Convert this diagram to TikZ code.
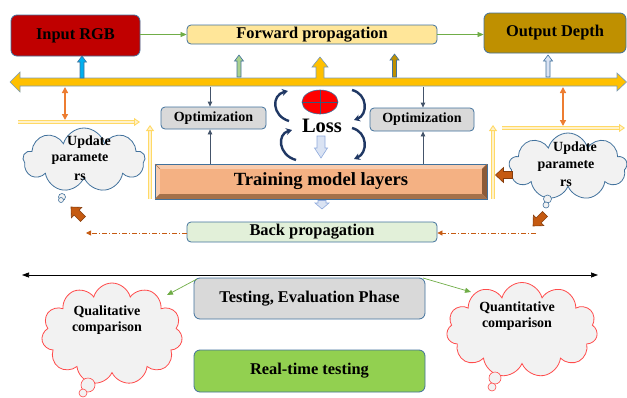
\documentclass[tikz,border=0pt]{standalone}
\usepackage{fontspec}
\setmainfont{Liberation Serif}
\usetikzlibrary{shapes.symbols,shapes.geometric,arrows.meta,calc}
\definecolor{bordblue}{HTML}{41719C}
\definecolor{inred}{HTML}{C00000}
\definecolor{fwdyel}{HTML}{FFE699}
\definecolor{outgold}{HTML}{BF9000}
\definecolor{bargold}{HTML}{FFC000}
\definecolor{optgray}{HTML}{D9D9D9}
\definecolor{trainor}{HTML}{F4B183}
\definecolor{trainlt}{HTML}{F8CBAD}
\definecolor{traindk}{HTML}{A5714A}
\definecolor{trainrd}{HTML}{8C5A37}
\definecolor{backgrn}{HTML}{E2F0D9}
\definecolor{realgrn}{HTML}{92D050}
\definecolor{cloudgray}{HTML}{F2F2F2}
\definecolor{cloudred}{HTML}{FF4B4B}
\definecolor{navy}{HTML}{203864}
\definecolor{slate}{HTML}{44546A}
\definecolor{orng}{HTML}{ED7D31}
\definecolor{brn}{HTML}{C55A11}
\definecolor{brndk}{HTML}{843C0C}
\definecolor{lgreen}{HTML}{70AD47}
\definecolor{skyblue}{HTML}{00B0F0}
\definecolor{pgreen}{HTML}{A9D18E}
\definecolor{pblue}{HTML}{DAE3F3}
\definecolor{pbluedk}{HTML}{8FAADC}
\definecolor{ylline}{HTML}{FFD966}
\definecolor{ylfill}{HTML}{FFF2CC}
\newcommand{\BlkUp}[5]{%
  \filldraw[fill=#4,draw=#5,line width=0.6pt]
    ({#1-2},#3) -- ({#1-2},{#2+6}) -- ({#1-4.5},{#2+6}) -- (#1,#2)
    -- ({#1+4.5},{#2+6}) -- ({#1+2},{#2+6}) -- ({#1+2},#3) -- cycle;}
\newcommand{\BrownArr}[3]{%
  \begin{scope}[shift={(#1,#2)},rotate=#3]
    \filldraw[fill=brn,draw=brndk,line width=0.6pt]
      (0,0) -- (-8,-7.5) -- (-8,-3.5) -- (-17,-3.5) -- (-17,3.5) -- (-8,3.5) -- (-8,7.5) -- cycle;
  \end{scope}}
\begin{document}
\begin{tikzpicture}[x=1pt,y=-1pt,
  box/.style={draw=bordblue,line width=0.8pt,rounded corners=4pt,inner sep=0pt,font=\bfseries},
  big/.style={font=\bfseries\fontsize{16.4}{18}\selectfont},
  small/.style={font=\bfseries\fontsize{14}{15}\selectfont},
  garr/.style={draw=lgreen,line width=0.7pt,-{Triangle[length=6pt,width=5pt]}},
  darr/.style={draw=slate,line width=0.8pt,-{Triangle[length=5pt,width=4.5pt]}},
  oarr/.style={draw=orng,line width=1.4pt,{Triangle[length=6pt,width=6pt]}-{Triangle[length=6pt,width=6pt]}},
  dd/.style={draw=brn,line width=0.8pt,dash pattern=on 5pt off 2pt on 1pt off 2pt,-{Triangle[length=5pt,width=5pt]}},
  curv/.style={draw=navy,line width=2.4pt,-{Stealth[length=6pt,width=7pt]}},
  yl/.style={draw=ylline,double=ylfill,double distance=2pt,line width=0.9pt,-{Triangle[length=6pt,width=8pt,open,fill=ylfill]}},
  cl/.style={cloud,cloud ignores aspect,draw=bordblue,fill=cloudgray,line width=0.8pt,inner sep=0pt},
  clr/.style={cloud,cloud ignores aspect,draw=cloudred,fill=cloudgray,line width=0.8pt,inner sep=0pt},
  bub/.style={circle,draw=bordblue,fill=cloudgray,line width=0.6pt,inner sep=0pt},
  bubr/.style={circle,draw=cloudred,fill=cloudgray,line width=0.6pt,inner sep=0pt},
  txt/.style={inner sep=0pt,align=center}]
\useasboundingbox (0,0) rectangle (627,397);

% top boxes
\node[box,big,fill=inred,minimum width=129pt,minimum height=41pt,rounded corners=6pt] (inp) at (75.5,35.5) {Input RGB};
\node[box,big,fill=fwdyel,minimum width=250pt,minimum height=19pt] (fwd) at (312,34.5) {Forward propagation};
\node[box,big,fill=outgold,minimum width=142pt,minimum height=40pt,rounded corners=6pt] (out) at (555,33) {Output Depth};
\draw[garr] (inp.east |- fwd.west) -- (fwd.west);
\draw[garr] (fwd.east) -- (fwd.east -| out.west);

% big yellow bar
\filldraw[fill=bargold,draw=bordblue!70,line width=0.6pt]
  (10,82) -- (20,72) -- (20,78) -- (316,78) -- (316,67) -- (312,67) -- (320,57) -- (328,67) -- (324,67)
  -- (324,78) -- (617,78) -- (617,73) -- (626.5,82) -- (617,91) -- (617,86) -- (20,86) -- (20,92) -- cycle;

% small up arrows
\BlkUp{82}{56}{78}{skyblue}{bordblue}
\BlkUp{239}{55}{77}{pgreen}{bordblue}
\BlkUp{394.5}{54}{77}{outgold}{bordblue}
\BlkUp{548}{55}{77}{pblue}{bordblue}

% optimization boxes
\node[box,small,fill=optgray,minimum width=105pt,minimum height=22pt] (opt1) at (213.5,118) {Optimization};
\node[box,small,fill=optgray,minimum width=104pt,minimum height=23pt] (opt2) at (422,119.5) {Optimization};
\coordinate (b1) at (210,86.5);
\coordinate (b2) at (423,86.5);
\draw[darr] (b1) -- (b1 |- opt1.north);
\draw[darr] (b2) -- (b2 |- opt2.north);

% training model layers (bevel)
\fill[trainlt] (155,164) -- (487,164) -- (482,169) -- (160,169) -- cycle;
\fill[trainlt] (155,164) -- (160,169) -- (160,194) -- (155,199) -- cycle;
\fill[traindk] (155,199) -- (160,194) -- (482,194) -- (487,199) -- cycle;
\fill[trainrd] (487,164) -- (482,169) -- (482,194) -- (487,199) -- cycle;
\fill[trainor] (160,169) rectangle (482,194);
\draw[bordblue,line width=0.8pt] (155,164) rectangle (487,199);
\draw[brndk!70,line width=0.4pt] (155,164) -- (160,169) (487,164) -- (482,169) (155,199) -- (160,194) (487,199) -- (482,194);
\node[txt,font=\bfseries\fontsize{18.6}{20}\selectfont] (train) at (321,181.5) {Training model layers};
\coordinate (t1) at (210,163.5);
\coordinate (t2) at (423,163.5);
\draw[darr] (t1) -- (t1 |- opt1.south);
\draw[darr] (t2) -- (t2 |- opt2.south);

% loss
\node[ellipse,fill=red,draw=bordblue,line width=0.6pt,minimum width=36pt,minimum height=24pt,inner sep=0pt] (lossell) at (320,102) {};
\draw[bordblue!80!black,line width=0.7pt] (lossell.north) -- (lossell.south) (lossell.west) -- (lossell.east);
\node[txt,font=\bfseries\fontsize{20.5}{22}\selectfont] (loss) at (322,126) {Loss};
\draw[curv] (289,121) .. controls (272,116) and (271,95) .. (288,91);
\draw[curv] (296,160) .. controls (278,155) and (277,134) .. (292,130);
\draw[curv] (352,90) .. controls (368,94) and (368,115) .. (354,120);
\draw[curv] (352,128) .. controls (368,132) and (368,153) .. (354,159);
% light blue down arrows
\filldraw[fill=pblue,draw=pbluedk,line width=0.6pt]
  (317,136) -- (325,136) -- (325,148) -- (327.5,148) -- (321,158) -- (314.5,148) -- (317,148) -- cycle;
\filldraw[fill=pblue,draw=pbluedk,line width=0.6pt]
  (318,200.5) -- (326,200.5) -- (326,203) -- (329,203) -- (322,209) -- (315,203) -- (318,203) -- cycle;

% back propagation
\node[box,big,fill=backgrn,minimum width=250pt,minimum height=20pt] (back) at (312,232) {Back propagation};
\coordinate (bl) at (86,233);
\coordinate (br) at (536,233);
\draw[dd] (back.west |- bl) -- (bl);
\draw[dd] (br) -- (br -| back.east);

% update clouds
\node[cl,cloud puffs=9,minimum width=122pt,minimum height=64pt] (cl1) at (84,160) {};
\node[bub,minimum size=7pt] (cl1b1) at (62,197) {};
\node[bub,minimum size=5pt] (cl1b2) at (61,200) {};
\node[txt,small] (u1a) at (89,142) {Update};
\node[txt,small] (u1b) at (80,159.5) {paramete};
\node[txt,small] (u1c) at (80,177) {rs};

\node[cl,cloud puffs=9,minimum width=118pt,minimum height=67pt] (cl2) at (568,166.5) {};
\node[bub,minimum size=8pt] (cl2b1) at (547.5,199) {};
\node[bub,minimum size=6pt] (cl2b2) at (546,205) {};
\node[txt,small] (u2a) at (575,148) {Update};
\node[txt,small] (u2b) at (566,166) {paramete};
\node[txt,small] (u2c) at (566,183) {rs};

% orange double arrows
\coordinate (ol1) at (65,87);
\coordinate (ol2) at (65,120);
\coordinate (or1) at (563,87);
\coordinate (or2) at (563,126);
\draw[oarr] (ol1) -- (ol2);
\draw[oarr] (or1) -- (or2);

% light yellow arrows
\coordinate (yl1) at (18,122);
\coordinate (yl2) at (140,122);
\coordinate (yr1) at (502,128);
\coordinate (yr2) at (625,128);
\coordinate (yv1) at (150,199);
\coordinate (yv2) at (150,125);
\coordinate (yw1) at (493,199);
\coordinate (yw2) at (493,125);
\draw[yl] (yl1) -- (yl2);
\draw[yl] (yr1) -- (yr2);
\draw[yl] (yv1) -- (yv2);
\draw[yl] (yw1) -- (yw2);

% brown block arrows
\BrownArr{71}{207}{135}
\BrownArr{533}{226}{225}
\BrownArr{495.5}{175}{180}

% testing section
\coordinate (kl) at (22,275);
\coordinate (kr) at (598,275);
\draw[line width=0.7pt,{Triangle[length=7pt,width=5pt]}-{Triangle[length=7pt,width=5pt]}] (kl) -- (kr);
\node[box,big,fill=optgray,minimum width=231pt,minimum height=41pt,rounded corners=6pt] (test) at (309.5,298.5) {Testing, Evaluation Phase};
\node[box,big,fill=realgrn,minimum width=231pt,minimum height=42pt,rounded corners=6pt] (real) at (309.5,371) {Real-time testing};

\node[clr,cloud puffs=11,minimum width=141pt,minimum height=102pt] (qual) at (112,334) {};
\node[bubr,minimum size=14pt] (qb1) at (88,385) {};
\node[bubr,minimum size=8pt] (qb2) at (83,393) {};
\node[txt,small] (qualt) at (107,320) {Qualitative\\[1pt]comparison};

\node[clr,cloud puffs=11,minimum width=151pt,minimum height=95pt] (quan) at (522,330) {};
\node[bubr,minimum size=12pt] (nb1) at (495,378) {};
\node[bubr,minimum size=8pt] (nb2) at (492,387) {};
\node[txt,small] (quant) at (517,316.5) {Quantitative\\[1pt]comparison};

\coordinate (g1) at (197,279);
\coordinate (g2) at (167,295);
\coordinate (g3) at (423,278);
\coordinate (g4) at (471,292);
\draw[garr] (g1) -- (g2);
\draw[garr] (g3) -- (g4);
\end{tikzpicture}
\end{document}
